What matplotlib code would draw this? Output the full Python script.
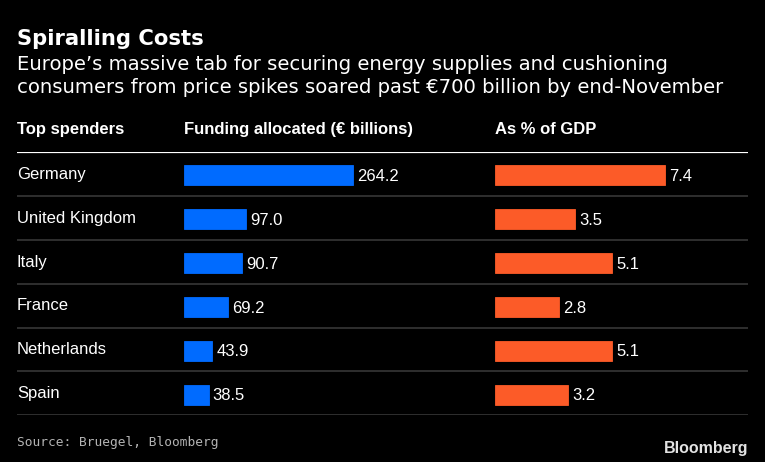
import matplotlib.pyplot as plt

# data
countries = ["Germany", "United Kingdom", "Italy", "France", "Netherlands", "Spain"]
funding = [264.2, 97.0, 90.7, 69.2, 43.9, 38.5]
gdp_share = [7.4, 3.5, 5.1, 2.8, 5.1, 3.2]

W, H = 765, 462
BG = "#000000"
BLUE = "#006bff"
ORANGE = "#fc5b28"


def fx(x):
    return x / W


def fy(y):
    return 1 - y / H


fig = plt.figure(figsize=(W / 100, H / 100), dpi=100, facecolor=BG)

# titles
fig.text(fx(17), fy(45), "Spiralling Costs", color="white", fontsize=15.2,
         fontweight="bold", family="DejaVu Sans", va="baseline")
fig.text(fx(17), fy(70), "Europe\u2019s massive tab for securing energy supplies and cushioning",
         color="white", fontsize=14.1, family="DejaVu Sans", va="baseline")
fig.text(fx(17), fy(93), "consumers from price spikes soared past \u20ac700 billion by end-November",
         color="white", fontsize=14.1, family="DejaVu Sans", va="baseline")

# column headers
hdr = dict(color="white", fontsize=12, fontweight="bold", family="Liberation Sans", va="baseline")
fig.text(fx(17), fy(134), "Top spenders", **hdr)
fig.text(fx(184), fy(134), "Funding allocated (\u20ac billions)", **hdr)
fig.text(fx(495), fy(134), "As % of GDP", **hdr)

top, bottom = 152, 415.3
left, right = 17, 748
n = len(countries)

# background axes: row lines and country labels
ax = fig.add_axes([fx(left), fy(bottom), (right - left) / W, (bottom - top) / H])
ax.set_xlim(0, 1)
ax.set_ylim(n, 0)
ax.axis("off")
ax.axhline(0, color="white", lw=1.6)
for i in range(1, n + 1):
    ax.axhline(i, color="#3c3c3c", lw=1.1)
for i, c in enumerate(countries):
    ax.text(0, i + 0.61, c, color="white", fontsize=12, family="Liberation Sans", va="baseline")


def bar_axes(x0, px_per_unit, xmax, values, color, fmt):
    a = fig.add_axes([fx(x0), fy(bottom), px_per_unit * xmax / W, (bottom - top) / H])
    a.set_xlim(0, xmax)
    a.set_ylim(n, 0)
    a.axis("off")
    ys = [i + 0.53 for i in range(n)]
    a.barh(ys, values, height=0.46, color=color, edgecolor=color, lw=0.6)
    for y, v in zip(ys, values):
        a.annotate(fmt.format(v), xy=(v, y + 0.13), xytext=(3, 0), textcoords="offset points",
                   color="white", fontsize=12, family="Liberation Sans", va="baseline",
                   ha="left", annotation_clip=False)
    return a


bar_axes(184, 0.64, 300, funding, BLUE, "{:.1f}")
bar_axes(495, 22.95, 10, gdp_share, ORANGE, "{:.1f}")

# footer
fig.text(fx(17), fy(445.7), "Source: Bruegel, Bloomberg", color="#b4b4b4", fontsize=9.3,
         family="DejaVu Sans Mono", va="baseline")
fig.text(fx(748), fy(452.7), "Bloomberg", color="#e2e2e2", fontsize=11.5, fontweight="bold",
         family="Liberation Sans", va="baseline", ha="right")

fig.savefig("out.png", dpi=100, facecolor=BG)
